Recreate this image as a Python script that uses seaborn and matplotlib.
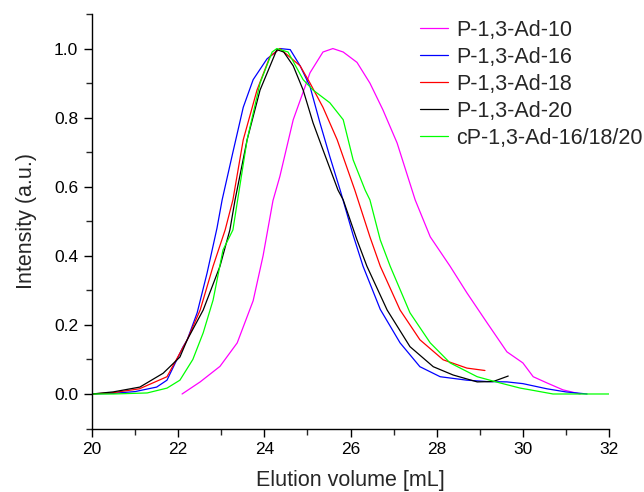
import matplotlib
matplotlib.use('Agg')
import matplotlib.pyplot as plt
from matplotlib.ticker import MultipleLocator
import seaborn as sns

# Dados (volume de eluição em mL, intensidade normalizada)
x_ad10 = [22.09, 22.51, 22.97, 23.37, 23.74, 23.97, 24.2, 24.36, 24.67, 25.06, 25.36, 25.59,
          25.83, 26.15, 26.45, 26.75, 27.08, 27.5, 27.85, 28.31, 28.7, 29.17, 29.63,
          30.0, 30.24, 30.56, 30.93, 31.33]
y_ad10 = [0.0, 0.035, 0.08, 0.148, 0.27, 0.4, 0.56, 0.63, 0.794, 0.93, 0.99, 1.0,
          0.99, 0.96, 0.90, 0.823, 0.727, 0.562, 0.455, 0.37, 0.293, 0.206, 0.122,
          0.09, 0.05, 0.032, 0.012, 0.0]

x_ad16 = [20.0, 20.5, 21.0, 21.5, 21.74, 22.11, 22.21, 22.44, 22.67, 22.9, 23.02, 23.27,
          23.51, 23.74, 24.06, 24.36, 24.6, 24.83, 25.06, 25.29, 25.52, 25.76, 26.06, 26.29,
          26.69, 27.15, 27.61, 28.08, 28.7, 29.17, 29.63, 30.0, 30.56, 31.0, 31.49]
y_ad16 = [0.0, 0.002, 0.007, 0.02, 0.04, 0.136, 0.157, 0.235, 0.35, 0.48, 0.562, 0.70,
          0.83, 0.91, 0.97, 1.0, 0.997, 0.95, 0.89, 0.785, 0.687, 0.59, 0.46, 0.37,
          0.245, 0.148, 0.079, 0.05, 0.04, 0.036, 0.035, 0.03, 0.015, 0.006, 0.0]

x_ad18 = [20.0, 20.5, 21.1, 21.74, 22.21, 22.51, 22.81, 23.09, 23.27, 23.51, 23.83, 24.13,
          24.36, 24.83, 25.06, 25.36, 25.69, 26.1, 26.45, 26.69, 27.15, 27.61, 28.15,
          28.7, 29.12]
y_ad18 = [0.0, 0.004, 0.015, 0.05, 0.157, 0.243, 0.37, 0.475, 0.562, 0.736, 0.88, 0.977,
          1.0, 0.95, 0.90, 0.83, 0.736, 0.59, 0.455, 0.37, 0.243, 0.157, 0.099,
          0.075, 0.068]

x_ad20 = [20.0, 20.49, 21.11, 21.65, 22.04, 22.21, 22.58, 22.97, 23.2, 23.32, 23.6, 23.9,
          24.29, 24.45, 24.67, 24.9, 25.13, 25.36, 25.71, 25.83, 26.15, 26.38, 26.85, 27.38,
          27.92, 28.38, 28.94, 29.31, 29.66]
y_ad20 = [0.0, 0.006, 0.02, 0.06, 0.107, 0.157, 0.243, 0.37, 0.475, 0.562, 0.736, 0.88,
          0.997, 0.99, 0.95, 0.88, 0.785, 0.707, 0.59, 0.562, 0.446, 0.37, 0.243, 0.137,
          0.079, 0.055, 0.035, 0.036, 0.052]

x_cp = [20.0, 20.49, 21.28, 21.74, 22.04, 22.34, 22.58, 22.81, 23.04, 23.27, 23.6, 23.9,
        24.18, 24.29, 24.55, 24.9, 25.13, 25.52, 25.83, 26.06, 26.34, 26.45, 26.69, 26.92,
        27.38, 27.85, 28.31, 28.94, 29.47, 29.94, 30.17, 30.7, 31.5, 32.0]
y_cp = [0.0, 0.0, 0.003, 0.017, 0.04, 0.1, 0.177, 0.272, 0.417, 0.475, 0.736, 0.9,
        0.99, 1.0, 0.99, 0.91, 0.88, 0.843, 0.794, 0.678, 0.59, 0.562, 0.446, 0.37,
        0.235, 0.148, 0.09, 0.05, 0.032, 0.017, 0.012, 0.0, 0.0, 0.0]

series = [
    ('P-1,3-Ad-10', x_ad10, y_ad10, '#ff00ff'),
    ('P-1,3-Ad-16', x_ad16, y_ad16, '#0000ff'),
    ('P-1,3-Ad-18', x_ad18, y_ad18, '#ff0000'),
    ('P-1,3-Ad-20', x_ad20, y_ad20, '#000000'),
    ('cP-1,3-Ad-16/18/20', x_cp, y_cp, '#00ff00'),
]

sns.set_style('ticks')
plt.rcParams['font.family'] = ['Liberation Sans', 'DejaVu Sans']

fig = plt.figure(figsize=(6.44, 4.92), dpi=100)
ax = fig.add_axes([0.1429, 0.129, 0.8028, 0.8425])

for nome, xs, ys, cor in series:
    sns.lineplot(x=xs, y=ys, ax=ax, color=cor, label=nome, linewidth=0.9,
                 estimator=None, sort=False)

ax.set_xlim(20, 32)
ax.set_ylim(-0.1, 1.1)
ax.xaxis.set_major_locator(MultipleLocator(2))
ax.xaxis.set_minor_locator(MultipleLocator(1))
ax.yaxis.set_major_locator(MultipleLocator(0.2))
ax.yaxis.set_minor_locator(MultipleLocator(0.1))
ax.tick_params(which='major', direction='out', length=6, width=1, labelsize=12.5,
               colors='black', pad=4)
ax.tick_params(which='minor', direction='out', length=4, width=1)
sns.despine(ax=ax)
for s in ['left', 'bottom']:
    ax.spines[s].set_linewidth(1)
    ax.spines[s].set_color('black')

ax.set_xlabel('Elution volume [mL]', fontsize=15.5, labelpad=9)
ax.set_ylabel('Intensity (a.u.)', fontsize=15.5, labelpad=12)

ax.legend(loc='upper left', bbox_to_anchor=(0.652, 0.960), bbox_transform=fig.transFigure,
          frameon=False, fontsize=15.5, handlelength=1.3, handletextpad=0.4,
          labelspacing=0.28, borderpad=0, borderaxespad=0)

fig.savefig('out.png', dpi=100)
